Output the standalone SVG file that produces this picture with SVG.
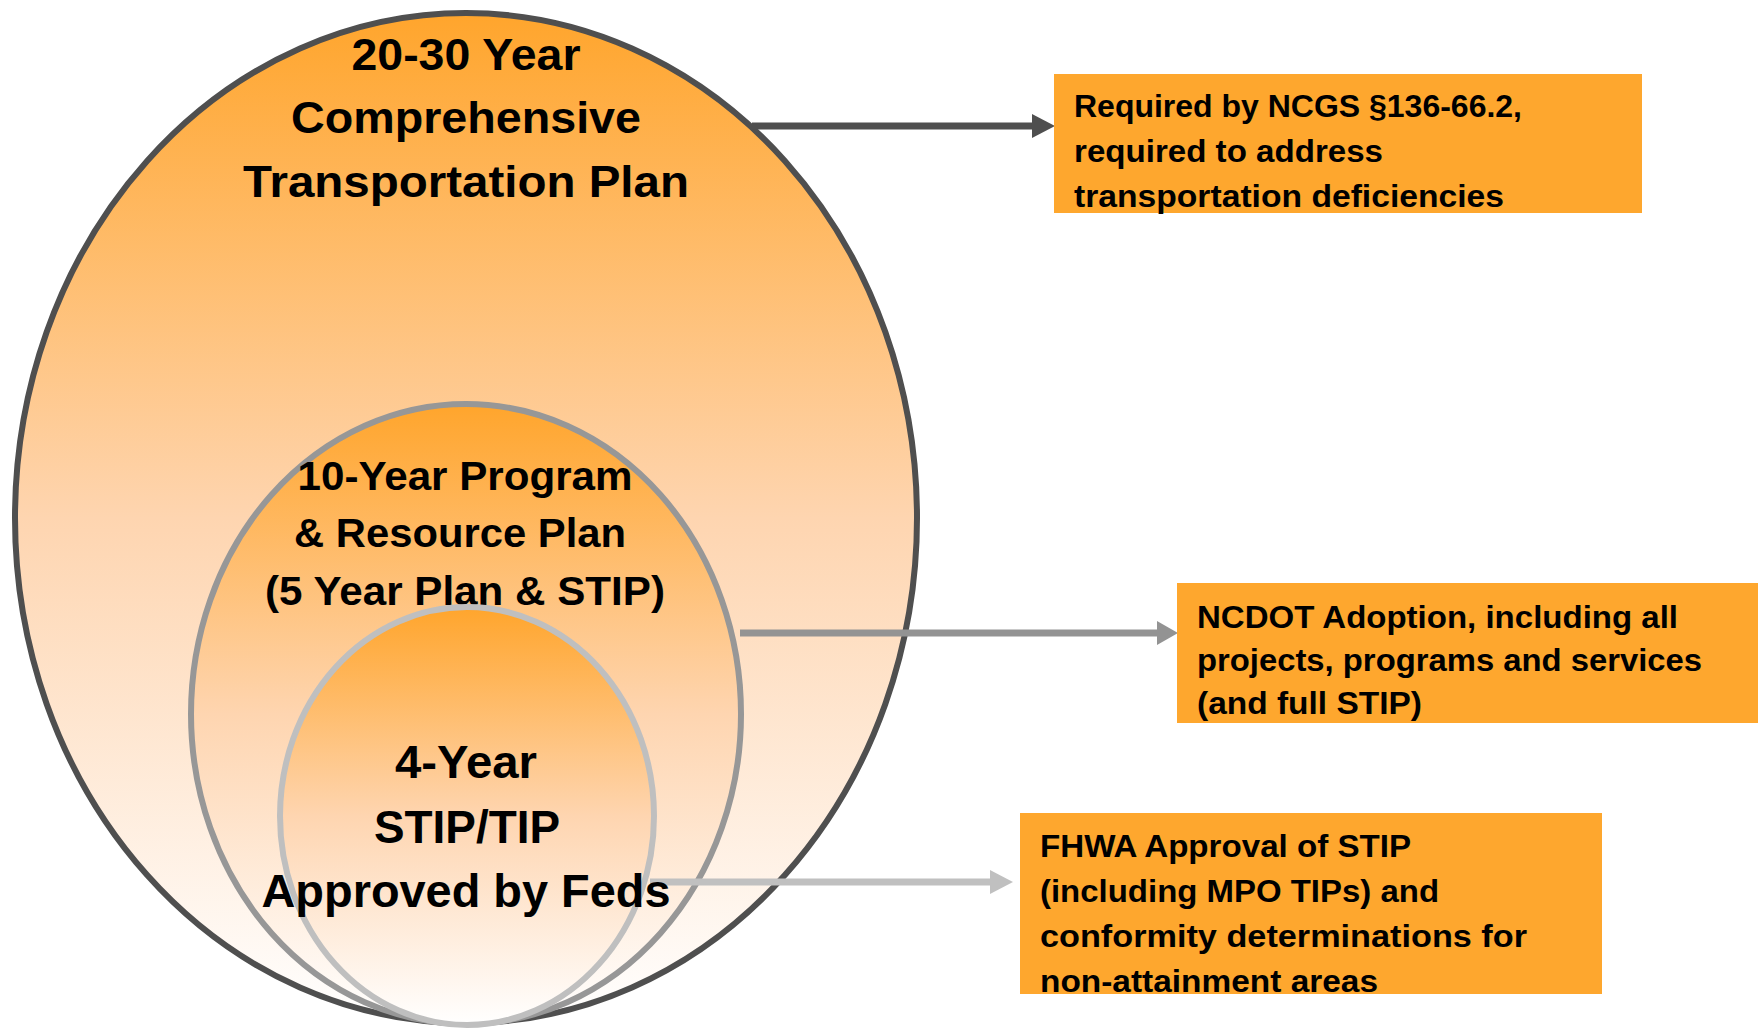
<svg xmlns="http://www.w3.org/2000/svg" width="1758" height="1028" viewBox="0 0 1758 1028">
  <defs>
    <linearGradient id="fade" x1="0" y1="0" x2="0" y2="1">
      <stop offset="0" stop-color="#FFA52C"/>
      <stop offset="0.5" stop-color="#FED5B0"/>
      <stop offset="1" stop-color="#FFFFFF"/>
    </linearGradient>
    <marker id="headDark" markerUnits="userSpaceOnUse" markerWidth="24" markerHeight="26" refX="0" refY="12" orient="auto">
      <path d="M0,0 L23,12 L0,24 Z" fill="#4F4F4F"/>
    </marker>
    <marker id="headMid" markerUnits="userSpaceOnUse" markerWidth="24" markerHeight="26" refX="0" refY="12" orient="auto">
      <path d="M0,0 L21,12 L0,24 Z" fill="#939393"/>
    </marker>
    <marker id="headLight" markerUnits="userSpaceOnUse" markerWidth="24" markerHeight="26" refX="0" refY="12" orient="auto">
      <path d="M0,0 L23,12 L0,24 Z" fill="#C0C0C0"/>
    </marker>
  </defs>
  <style>
    .ell { fill: url(#fade); stroke-width: 6; }
    .big { font-family: "Liberation Sans", Arial, sans-serif; font-weight: bold; fill: #000; text-anchor: middle; }
    .box { fill: #FEA72E; }
    .bt { font-family: "Liberation Sans", Arial, sans-serif; font-weight: bold; font-size: 32px; fill: #000; }
    .conn { fill: none; stroke-width: 7; }
  </style>
  <rect width="1758" height="1028" fill="#FFFFFF"/>

  <g id="node-ctp">
    <ellipse class="ell" cx="466" cy="518" rx="451" ry="505" stroke="#4F4F4F" stroke-width="7"/>
    <text class="big" font-size="45" x="466" y="70" textLength="229" lengthAdjust="spacingAndGlyphs">20-30 Year</text>
    <text class="big" font-size="45" x="466" y="133" textLength="350" lengthAdjust="spacingAndGlyphs">Comprehensive</text>
    <text class="big" font-size="45" x="466" y="197" textLength="446" lengthAdjust="spacingAndGlyphs">Transportation Plan</text>
  </g>

  <g id="node-10year">
    <ellipse class="ell" cx="466" cy="714" rx="275" ry="310" stroke="#979797"/>
    <text class="big" font-size="41" x="465" y="490" textLength="335" lengthAdjust="spacingAndGlyphs">10-Year Program</text>
    <text class="big" font-size="41" x="460" y="547" textLength="332" lengthAdjust="spacingAndGlyphs">&amp; Resource Plan</text>
    <text class="big" font-size="41" x="465" y="605" textLength="400" lengthAdjust="spacingAndGlyphs">(5 Year Plan &amp; STIP)</text>
  </g>

  <g id="connectors">
    <line class="conn" x1="752" y1="126" x2="1032" y2="126" stroke="#4F4F4F" marker-end="url(#headDark)"/>
    <line class="conn" x1="740" y1="633" x2="1157" y2="633" stroke="#939393" marker-end="url(#headMid)"/>
    <line class="conn" x1="650" y1="882" x2="990" y2="882" stroke="#C0C0C0" marker-end="url(#headLight)"/>
  </g>

  <g id="node-4year">
    <ellipse class="ell" cx="467" cy="816" rx="187" ry="209" stroke="#BFBFBF"/>
    <text class="big" font-size="46" x="466" y="778" textLength="142" lengthAdjust="spacingAndGlyphs">4-Year</text>
    <text class="big" font-size="46" x="467" y="843" textLength="186" lengthAdjust="spacingAndGlyphs">STIP/TIP</text>
    <text class="big" font-size="46" x="466" y="907" textLength="409" lengthAdjust="spacingAndGlyphs">Approved by Feds</text>
  </g>

  <g id="box-ncgs">
    <rect class="box" x="1054" y="74" width="588" height="139"/>
    <text class="bt" x="1074" y="117" textLength="448" lengthAdjust="spacingAndGlyphs">Required by NCGS §136-66.2,</text>
    <text class="bt" x="1074" y="162" textLength="309" lengthAdjust="spacingAndGlyphs">required to address</text>
    <text class="bt" x="1074" y="207" textLength="430" lengthAdjust="spacingAndGlyphs">transportation deficiencies</text>
  </g>

  <g id="box-ncdot">
    <rect class="box" x="1177" y="583" width="581" height="140"/>
    <text class="bt" x="1197" y="628" textLength="481" lengthAdjust="spacingAndGlyphs">NCDOT Adoption, including all</text>
    <text class="bt" x="1197" y="671" textLength="505" lengthAdjust="spacingAndGlyphs">projects, programs and services</text>
    <text class="bt" x="1197" y="714" textLength="225" lengthAdjust="spacingAndGlyphs">(and full STIP)</text>
  </g>

  <g id="box-fhwa">
    <rect class="box" x="1020" y="813" width="582" height="181"/>
    <text class="bt" x="1040" y="857" textLength="371" lengthAdjust="spacingAndGlyphs">FHWA Approval of STIP</text>
    <text class="bt" x="1040" y="902" textLength="399" lengthAdjust="spacingAndGlyphs">(including MPO TIPs) and</text>
    <text class="bt" x="1040" y="947" textLength="487" lengthAdjust="spacingAndGlyphs">conformity determinations for</text>
    <text class="bt" x="1040" y="992" textLength="338" lengthAdjust="spacingAndGlyphs">non-attainment areas</text>
  </g>
</svg>
